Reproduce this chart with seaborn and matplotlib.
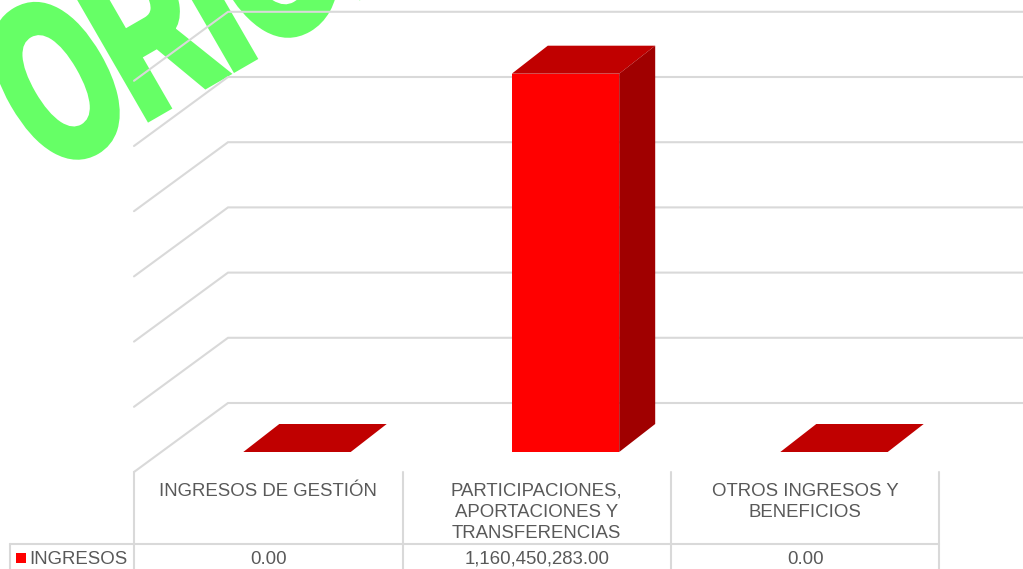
import matplotlib.pyplot as plt
from matplotlib.patches import Polygon, Rectangle
from matplotlib.patheffects import AbstractPathEffect
from matplotlib.transforms import Affine2D
import seaborn as sns

categorias = [
    "INGRESOS DE GESTIÓN",
    "PARTICIPACIONES,\nAPORTACIONES Y\nTRANSFERENCIAS",
    "OTROS INGRESOS Y\nBENEFICIOS",
]
valores = [0.00, 1160450283.00, 0.00]
serie = "INGRESOS"
marcas_y = [0, 200e6, 400e6, 600e6, 800e6, 1000e6, 1200e6]
marca_agua = "ORIGINAL"

ANCHO, ALTO = 1023, 569
GRIS = "#D9D9D9"
TEXTO = "#595959"
VERDE = "#66FF66"


class Condensar(AbstractPathEffect):
    # angosta la letra a lo largo de la linea base y le engrosa el trazo
    def __init__(self, ancla, angulo, factor, grosor):
        super().__init__()
        self.ancla, self.angulo, self.factor, self.grosor = ancla, angulo, factor, grosor

    def draw_path(self, renderer, gc, tpath, affine, rgbFace=None):
        x, y = self.ancla
        extra = (Affine2D().translate(-x, -y).rotate_deg(-self.angulo)
                 .scale(self.factor, 1).rotate_deg(self.angulo).translate(x, y))
        gc0 = renderer.new_gc()
        gc0.copy_properties(gc)
        gc0.set_linewidth(self.grosor)
        gc0.set_foreground(VERDE)
        gc0.set_joinstyle("miter")
        renderer.draw_path(gc0, tpath, affine + extra, rgbFace)
        gc0.restore()


sns.set_theme(style="white")
plt.rcParams["font.family"] = ["Liberation Sans", "DejaVu Sans"]

fig = plt.figure(figsize=(ANCHO / 100, ALTO / 100), dpi=100)
# el plano de las barras: la base queda en y=452 px
ax = fig.add_axes([162.75 / ANCHO, (ALTO - 452) / ALTO, 805.5 / ANCHO, 391.2 / ALTO])

sns.barplot(x=list(range(len(valores))), y=valores, color="#FF0000", saturation=1,
            width=0.4, native_scale=True, linewidth=0, ax=ax, zorder=4)
ax.set_xlim(-0.5, 2.5)
ax.set_ylim(marcas_y[0], marcas_y[-1])
ax.axis("off")

# pasar de pixeles a datos para simular la profundidad 3D
px_x = 3 / 805.5
px_y = marcas_y[-1] / 391.2

# marca de agua, anclada en pixeles de la figura
ancla_px = (49, ALTO - 175)
ax.text(ancla_px[0] / ANCHO, ancla_px[1] / ALTO, marca_agua, transform=fig.transFigure,
        rotation=30, rotation_mode="anchor", fontweight="bold", fontsize=163, color=VERDE,
        ha="left", va="baseline", zorder=1, clip_on=False,
        path_effects=[Condensar(ancla_px, 30, 0.607, 6)])

# lineas de la pared y el piso
izq = -0.5 - 28.75 * px_x
der = 2.5 + 54.75 * px_x
fondo = -0.5 + 65.25 * px_x
for v in marcas_y:
    ax.plot([izq, fondo, der], [v - 20 * px_y, v + 49 * px_y, v + 49 * px_y],
            color=GRIS, lw=1.5, zorder=2, clip_on=False, solid_joinstyle="miter")

# caras superior y lateral de cada barra
prof_x, prof_y = 36 * px_x, 28 * px_y
for barra in ax.patches:
    x0, x1 = barra.get_x(), barra.get_x() + barra.get_width()
    h = barra.get_height()
    ax.add_patch(Polygon([(x0, h), (x0 + prof_x, h + prof_y), (x1 + prof_x, h + prof_y), (x1, h)],
                         facecolor="#C00000", edgecolor="none", zorder=5, clip_on=False))
    if h > 0:
        ax.add_patch(Polygon([(x1, 0), (x1 + prof_x, prof_y), (x1 + prof_x, h + prof_y), (x1, h)],
                             facecolor="#A00000", edgecolor="none", zorder=5, clip_on=False))
    barra.set_clip_on(False)

# tabla de datos
y_arriba = -20 * px_y
y_fila = -92 * px_y
y_abajo = -120 * px_y
bordes = [izq + i for i in range(len(categorias) + 1)]
for x in bordes:
    ax.plot([x, x], [y_arriba, y_abajo], color=GRIS, lw=1.5, zorder=2, clip_on=False)
x_tabla = izq - 124 * px_x
ax.plot([x_tabla, bordes[-1]], [y_fila, y_fila], color=GRIS, lw=1.5, zorder=2, clip_on=False)
ax.plot([x_tabla, x_tabla], [y_fila, y_abajo], color=GRIS, lw=1.5, zorder=2, clip_on=False)

for i, (cat, val) in enumerate(zip(categorias, valores)):
    ax.text(izq + i + 0.5, -31 * px_y, cat, ha="center", va="top", fontsize=13.4,
            color=TEXTO, linespacing=1.32, clip_on=False)
    ax.text(izq + i + 0.5, -107 * px_y, f"{val:,.2f}", ha="center", va="center", fontsize=13.4,
            color=TEXTO, clip_on=False)

ax.add_patch(Rectangle((izq - 118 * px_x, -111 * px_y), 10 * px_x, 10 * px_y,
                       facecolor="#FF0000", edgecolor="none", clip_on=False))
ax.text(izq - 105 * px_x, -107 * px_y, serie, ha="left", va="center", fontsize=13.4,
        color=TEXTO, clip_on=False)

fig.savefig("out.png", dpi=100)
